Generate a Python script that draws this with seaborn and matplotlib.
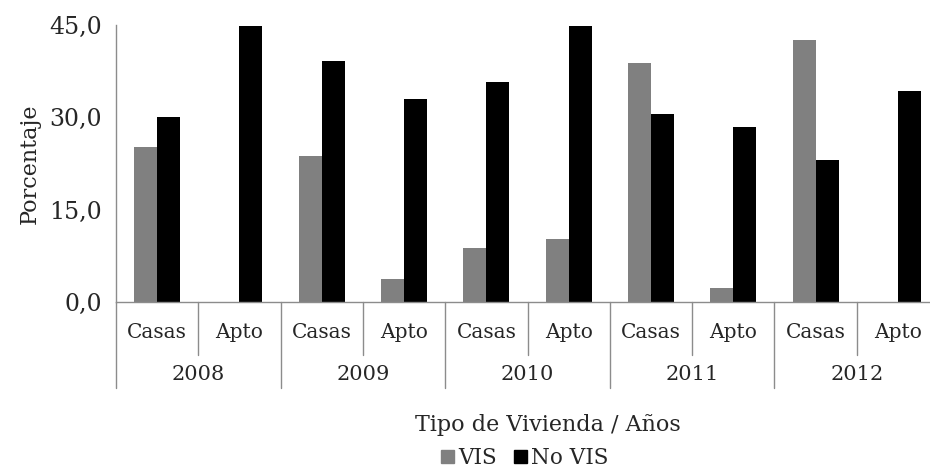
import pandas as pd
import matplotlib
matplotlib.use("Agg")
import matplotlib.pyplot as plt
import matplotlib.transforms as mtransforms
from matplotlib.patches import Patch
import seaborn as sns

# datos
years = ["2008", "2009", "2010", "2011", "2012"]
tipos = ["Casas", "Apto"]
vis = [25.2, 0.0, 23.7, 3.8, 8.8, 10.2, 38.8, 2.2, 42.5, 0.0]
no_vis = [30.0, 44.8, 39.2, 33.0, 35.8, 44.9, 30.5, 28.4, 23.1, 34.3]
series = ["VIS", "No VIS"]
y_ticks = [0, 15, 30, 45]
y_tick_labels = ["0,0", "15,0", "30,0", "45,0"]

cats = [f"{y} {t}" for y in years for t in tipos]
df = pd.DataFrame({
    "cat": cats * 2,
    "serie": [series[0]] * len(cats) + [series[1]] * len(cats),
    "valor": vis + no_vis,
})

sns.set_style("white")
plt.rcParams["font.family"] = ["DejaVu Serif"]

W, H = 930, 475
fig = plt.figure(figsize=(W / 100, H / 100), dpi=100)
ax = fig.add_axes([116 / W, 173 / H, 823 / W, 277 / H])

sns.barplot(data=df, x="cat", y="valor", hue="serie", order=cats,
            hue_order=series, palette={"VIS": "#808080", "No VIS": "#000000"},
            width=0.56, ax=ax, legend=False, saturation=1, linewidth=0)

gray = "#8c8c8c"
ax.set_ylim(0, 45)
ax.set_xlim(-0.5, len(cats) - 0.5)
ax.set_yticks(y_ticks)
ax.set_yticklabels(y_tick_labels, fontsize=17)
ax.tick_params(axis="y", direction="out", length=7, color=gray, width=1, pad=3)
ax.set_xticks([])
ax.set_xlabel("")
ax.set_ylabel("Porcentaje", fontsize=16, labelpad=6)
sns.despine(ax=ax)
for s in ["left", "bottom"]:
    ax.spines[s].set_color(gray)
    ax.spines[s].set_linewidth(1)

# eje x jerárquico
trans = mtransforms.blended_transform_factory(ax.transData, ax.transAxes)
px = 1 / 277  # un pixel en coordenadas de eje
for i, c in enumerate(cats):
    ax.text(i, -30 * px, c.split(" ")[1], transform=trans, ha="center",
            va="center", fontsize=14.5)
for i in range(len(cats) + 1):
    x = i - 0.5
    bottom = -86 * px if i % 2 == 0 else -53 * px
    ax.plot([x, x], [0, bottom], transform=trans, color=gray, lw=1,
            clip_on=False)
for j, y in enumerate(years):
    ax.text(2 * j + 0.5, -73 * px, y, transform=trans, ha="center",
            va="center", fontsize=15)

fig.text(548 / W, 1 - 425 / H, "Tipo de Vivienda / Años", ha="center",
         va="center", fontsize=16)

handles = [Patch(color="#808080", label="VIS"), Patch(color="#000000", label="No VIS")]
fig.legend(handles=handles, loc="center", bbox_to_anchor=(525 / W, 1 - 458 / H),
           ncol=2, frameon=False, fontsize=15.5, handlelength=0.6, handleheight=0.6,
           handletextpad=0.2, columnspacing=0.8)

fig.savefig("out.png", dpi=100)
